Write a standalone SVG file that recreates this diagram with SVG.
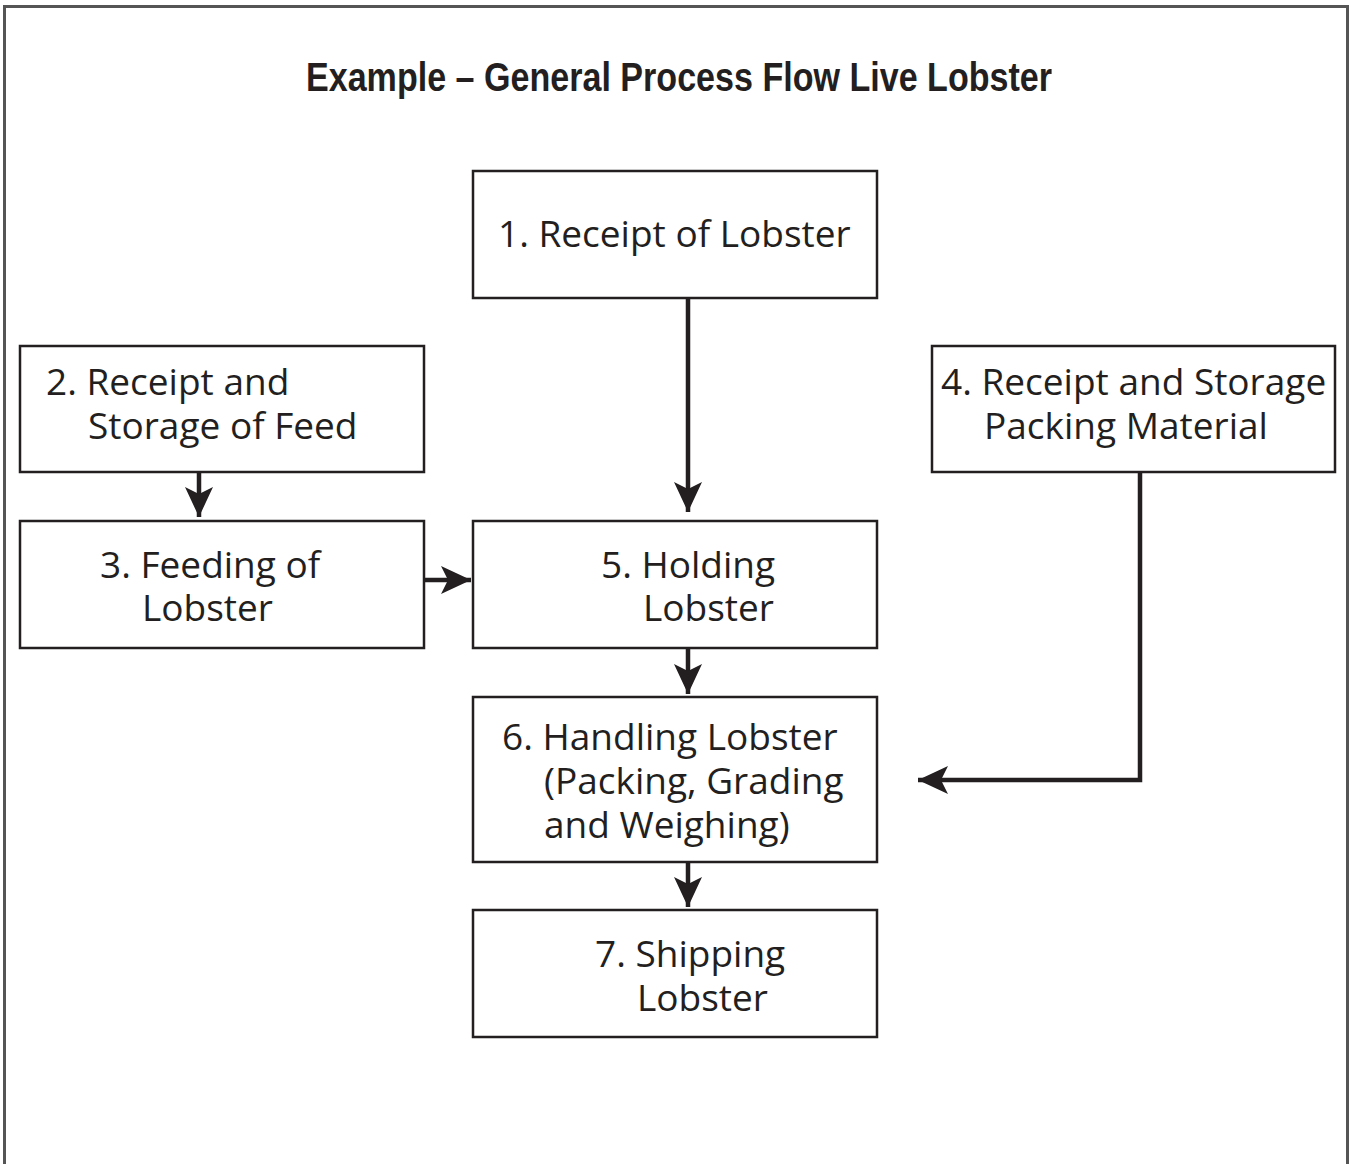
<svg xmlns="http://www.w3.org/2000/svg" width="1351" height="1164" viewBox="0 0 1351 1164">
<style>
.box{fill:#fff;stroke:#231f20;stroke-width:2.5}
.t{font-family:"Open Sans","Liberation Sans",sans-serif;font-size:37px;fill:#231f20}
.title{font-family:"Liberation Sans",Arial,sans-serif;font-weight:bold;font-size:40px;fill:#231f20}
.c{fill:none;stroke:#231f20;stroke-width:4.5}
</style>
<defs>
<marker id="ah" markerUnits="userSpaceOnUse" markerWidth="34" markerHeight="34" viewBox="0 0 34 34" refX="30" refY="17" orient="auto">
<path d="M0,3 L30,17 L0,31 L7,17 Z" fill="#231f20"/>
</marker>
</defs>
<rect width="1351" height="1164" fill="#fff"/>
<path d="M4.5,1164 V6.5 H1347.5 V1164" fill="none" stroke="#555" stroke-width="3"/>
<text class="title" x="679" y="91" text-anchor="middle" textLength="746" lengthAdjust="spacingAndGlyphs">Example – General Process Flow Live Lobster</text>
<g id="connectors">
<path class="c" d="M688,298 V512" marker-end="url(#ah)"/>
<path class="c" d="M199,472 V517" marker-end="url(#ah)"/>
<path class="c" d="M424,580 H471" marker-end="url(#ah)"/>
<path class="c" d="M688,648 V694" marker-end="url(#ah)"/>
<path class="c" d="M688,862 V907" marker-end="url(#ah)"/>
<path class="c" d="M1140,472 V780 H918" marker-end="url(#ah)"/>
</g>
<g id="n1"><rect class="box" x="473" y="171" width="404" height="127"/><text class="t" x="498" y="247">1. Receipt of Lobster</text></g>
<g id="n2"><rect class="box" x="20" y="346" width="404" height="126"/><text class="t" x="46" y="395">2. Receipt and</text><text class="t" x="88" y="439">Storage of Feed</text></g>
<g id="n3"><rect class="box" x="20" y="521" width="404" height="127"/><text class="t" x="100" y="578">3. Feeding of</text><text class="t" x="142" y="621">Lobster</text></g>
<g id="n4"><rect class="box" x="932" y="346" width="403" height="126"/><text class="t" x="941" y="395">4. Receipt and Storage</text><text class="t" x="984" y="439">Packing Material</text></g>
<g id="n5"><rect class="box" x="473" y="521" width="404" height="127"/><text class="t" x="601" y="578">5. Holding</text><text class="t" x="643" y="621">Lobster</text></g>
<g id="n6"><rect class="box" x="473" y="697" width="404" height="165"/><text class="t" x="502" y="750">6. Handling Lobster</text><text class="t" x="544" y="794">(Packing, Grading</text><text class="t" x="544" y="838">and Weighing)</text></g>
<g id="n7"><rect class="box" x="473" y="910" width="404" height="127"/><text class="t" x="595" y="967">7. Shipping</text><text class="t" x="637" y="1011">Lobster</text></g>
</svg>
